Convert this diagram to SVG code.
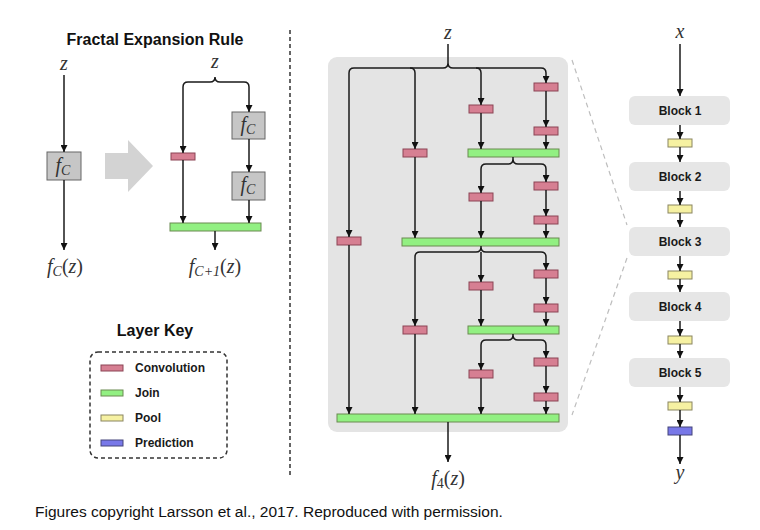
<svg xmlns="http://www.w3.org/2000/svg" width="760" height="530" viewBox="0 0 760 530">
<defs>
<marker id="ah" viewBox="0 0 10 10" refX="10" refY="5" markerWidth="7" markerHeight="7" markerUnits="userSpaceOnUse" orient="auto">
<path d="M0,0 L10,5 L0,10 z" fill="#111"/>
</marker>
<style>
.ln{stroke:#1a1a1a;stroke-width:1.5;fill:none}
.ar{stroke:#1a1a1a;stroke-width:1.5;fill:none;marker-end:url(#ah)}
.conv{fill:#d67f92;stroke:#8b4455;stroke-width:1}
.join{fill:#92f082;stroke:#6a8a50;stroke-width:1}
.pool{fill:#f6f1a2;stroke:#8a8560;stroke-width:1}
.pred{fill:#7878e8;stroke:#44447a;stroke-width:1}
.fc{fill:#c6c6c6;stroke:#666;stroke-width:1}
.blk{fill:#e6e6e6;stroke:none}
.bt{font-family:"Liberation Sans",Arial,sans-serif;font-weight:bold;font-size:12px;fill:#1a1a1a}
.ttl{font-family:"Liberation Sans",Arial,sans-serif;font-weight:bold;font-size:16px;fill:#111}
.m{font-family:"Liberation Serif","Times New Roman",serif;font-size:20px;fill:#333}
.mi{font-style:italic}
.dash{stroke:#333;stroke-width:1.5;stroke-dasharray:4,3;fill:none}
</style>
</defs>
<rect width="760" height="530" fill="#fff"/>

<!-- Fractal expansion rule -->
<g id="rule-title"><text class="ttl" x="155" y="45" text-anchor="middle">Fractal Expansion Rule</text></g>
<g id="rule-left">
<text class="m mi" x="64" y="70" text-anchor="middle">z</text>
<rect class="fc" x="47" y="152" width="34" height="28"/>
<text class="m" x="63" y="172" text-anchor="middle"><tspan class="mi">f</tspan><tspan class="mi" font-size="14" dy="3">C</tspan></text>
<text class="m" x="65" y="273" text-anchor="middle"><tspan class="mi">f</tspan><tspan class="mi" font-size="14" dy="3">C</tspan><tspan dy="-3">(</tspan><tspan class="mi">z</tspan><tspan>)</tspan></text>
</g>
<g id="expand-arrow"><polygon points="105,153 128,153 128,140 153,166 128,192 128,179 105,179" fill="#d3d3d3"/></g>
<g id="rule-right">
<text class="m mi" x="215" y="68" text-anchor="middle">z</text>
<rect class="conv" x="171" y="153" width="24" height="7"/>
<rect class="fc" x="232" y="112" width="33" height="27"/>
<text class="m" x="248" y="131" text-anchor="middle"><tspan class="mi">f</tspan><tspan class="mi" font-size="14" dy="3">C</tspan></text>
<rect class="fc" x="232" y="172" width="33" height="28"/>
<text class="m" x="248" y="191" text-anchor="middle"><tspan class="mi">f</tspan><tspan class="mi" font-size="14" dy="3">C</tspan></text>
<rect class="join" x="170" y="223" width="91" height="8"/>
<text class="m" x="215" y="273" text-anchor="middle"><tspan class="mi">f</tspan><tspan class="mi" font-size="14" dy="3">C+1</tspan><tspan dy="-3">(</tspan><tspan class="mi">z</tspan><tspan>)</tspan></text>
</g>

<!-- divider -->
<g id="divider"><line class="dash" x1="290" y1="30" x2="290" y2="478"/></g>

<!-- layer key -->
<g id="layer-key">
<text class="ttl" x="155" y="336" text-anchor="middle" font-size="15">Layer Key</text>
<rect class="dash" x="90" y="352" width="137" height="106" rx="8"/>
<rect class="conv" x="101" y="365" width="22" height="6"/>
<text class="bt" x="135" y="372">Convolution</text>
<rect class="join" x="101" y="390" width="22" height="6"/>
<text class="bt" x="135" y="397">Join</text>
<rect class="pool" x="101" y="415" width="22" height="6"/>
<text class="bt" x="135" y="422">Pool</text>
<rect class="pred" x="101" y="440" width="22" height="6"/>
<text class="bt" x="135" y="447">Prediction</text>
</g>

<!-- fractal block -->
<g id="fractal-block">
<rect x="328" y="57" width="240" height="375" rx="9" fill="#e4e4e4"/>
<text class="m mi" x="448" y="39" text-anchor="middle">z</text>
<rect class="conv" x="337" y="237" width="24" height="8"/>
<rect class="conv" x="403" y="149" width="24" height="8"/>
<rect class="conv" x="469" y="105" width="24" height="8"/>
<rect class="conv" x="534" y="83" width="24" height="8"/>
<rect class="conv" x="534" y="127" width="24" height="8"/>
<rect class="join" x="468" y="149" width="91" height="8"/>
<rect class="conv" x="469" y="193" width="24" height="8"/>
<rect class="conv" x="534" y="182" width="24" height="8"/>
<rect class="conv" x="534" y="216" width="24" height="8"/>
<rect class="join" x="402" y="238" width="157" height="8"/>
<rect class="conv" x="403" y="326" width="24" height="8"/>
<rect class="conv" x="469" y="282" width="24" height="8"/>
<rect class="conv" x="534" y="270" width="24" height="8"/>
<rect class="conv" x="534" y="304" width="24" height="8"/>
<rect class="join" x="468" y="326" width="91" height="8"/>
<rect class="conv" x="469" y="370" width="24" height="8"/>
<rect class="conv" x="534" y="358" width="24" height="8"/>
<rect class="conv" x="534" y="393" width="24" height="8"/>
<rect class="join" x="337" y="414" width="222" height="8"/>
<text class="m" x="448" y="485" text-anchor="middle"><tspan class="mi">f</tspan><tspan font-size="14" dy="3">4</tspan><tspan dy="-3">(</tspan><tspan class="mi">z</tspan><tspan>)</tspan></text>
</g>

<!-- macro network -->
<g id="x-label"><text class="m mi" x="680" y="38" text-anchor="middle">x</text></g>
<g id="block1"><rect class="blk" x="629" y="96" width="101" height="29" rx="6"/><text class="bt" x="680" y="115" text-anchor="middle">Block 1</text></g>
<g id="pool1"><rect class="pool" x="668" y="139" width="24" height="8"/></g>
<g id="block2"><rect class="blk" x="629" y="162" width="101" height="29" rx="6"/><text class="bt" x="680" y="181" text-anchor="middle">Block 2</text></g>
<g id="pool2"><rect class="pool" x="668" y="205" width="24" height="8"/></g>
<g id="block3"><rect class="blk" x="629" y="227" width="101" height="29" rx="6"/><text class="bt" x="680" y="246" text-anchor="middle">Block 3</text></g>
<g id="pool3"><rect class="pool" x="668" y="271" width="24" height="8"/></g>
<g id="block4"><rect class="blk" x="629" y="292" width="101" height="29" rx="6"/><text class="bt" x="680" y="311" text-anchor="middle">Block 4</text></g>
<g id="pool4"><rect class="pool" x="668" y="336" width="24" height="8"/></g>
<g id="block5"><rect class="blk" x="629" y="358" width="101" height="29" rx="6"/><text class="bt" x="680" y="377" text-anchor="middle">Block 5</text></g>
<g id="pool5"><rect class="pool" x="668" y="402" width="24" height="8"/></g>
<g id="prediction"><rect class="pred" x="668" y="427" width="24" height="8"/></g>
<g id="y-label"><text class="m mi" x="680" y="479" text-anchor="middle">y</text></g>

<!-- connectors -->
<g id="connectors">
<!-- rule left -->
<line class="ar" x1="64" y1="75" x2="64" y2="152"/>
<line class="ar" x1="64" y1="180" x2="64" y2="250"/>
<!-- rule right -->
<path class="ln" d="M183,87 Q183,82 188,82 L210,82 Q215,82 215,77 Q215,82 220,82 L244,82 Q249,82 249,87"/>
<line class="ar" x1="183" y1="87" x2="183" y2="153"/>
<line class="ar" x1="183" y1="160" x2="183" y2="223"/>
<line class="ar" x1="249" y1="87" x2="249" y2="112"/>
<line class="ar" x1="249" y1="139" x2="249" y2="172"/>
<line class="ar" x1="249" y1="200" x2="249" y2="223"/>
<line class="ar" x1="215" y1="231" x2="215" y2="250"/>
<!-- fractal -->
<line class="ln" x1="448" y1="44" x2="448" y2="63"/>
<path class="ln" d="M349,73 Q349,68 354,68 L443,68 Q448,68 448,63 Q448,68 453,68 L541,68 Q546,68 546,73"/>
<path class="ln" d="M410,68 Q415,68 415,73"/>
<path class="ln" d="M476,68 Q481,68 481,73"/>
<line class="ar" x1="349" y1="73" x2="349" y2="237"/>
<line class="ar" x1="349" y1="245" x2="349" y2="414"/>
<line class="ar" x1="415" y1="73" x2="415" y2="149"/>
<line class="ar" x1="415" y1="157" x2="415" y2="238"/>
<line class="ar" x1="481" y1="73" x2="481" y2="105"/>
<line class="ar" x1="481" y1="113" x2="481" y2="149"/>
<line class="ar" x1="546" y1="73" x2="546" y2="83"/>
<line class="ar" x1="546" y1="91" x2="546" y2="127"/>
<line class="ar" x1="546" y1="135" x2="546" y2="149"/>
<path class="ln" d="M481,169 Q481,164 486,164 L508,164 Q513,164 513,159 L513,157 M513,159 Q513,164 518,164 L541,164 Q546,164 546,169"/>
<line class="ar" x1="481" y1="169" x2="481" y2="193"/>
<line class="ar" x1="481" y1="201" x2="481" y2="238"/>
<line class="ar" x1="546" y1="169" x2="546" y2="182"/>
<line class="ar" x1="546" y1="190" x2="546" y2="216"/>
<line class="ar" x1="546" y1="224" x2="546" y2="238"/>
<path class="ln" d="M415,257 Q415,252 420,252 L476,252 Q481,252 481,247 L481,246 M481,247 Q481,252 486,252 L541,252 Q546,252 546,257"/>
<line class="ar" x1="415" y1="257" x2="415" y2="326"/>
<line class="ar" x1="415" y1="334" x2="415" y2="414"/>
<line class="ar" x1="481" y1="252" x2="481" y2="282"/>
<line class="ar" x1="481" y1="290" x2="481" y2="326"/>
<line class="ar" x1="546" y1="257" x2="546" y2="270"/>
<line class="ar" x1="546" y1="278" x2="546" y2="304"/>
<line class="ar" x1="546" y1="312" x2="546" y2="326"/>
<path class="ln" d="M481,345 Q481,340 486,340 L508,340 Q513,340 513,335 L513,334 M513,335 Q513,340 518,340 L541,340 Q546,340 546,345"/>
<line class="ar" x1="481" y1="345" x2="481" y2="370"/>
<line class="ar" x1="481" y1="378" x2="481" y2="414"/>
<line class="ar" x1="546" y1="345" x2="546" y2="358"/>
<line class="ar" x1="546" y1="366" x2="546" y2="393"/>
<line class="ar" x1="546" y1="401" x2="546" y2="414"/>
<line class="ar" x1="448" y1="422" x2="448" y2="462"/>
<!-- zoom guides -->
<line x1="572" y1="60" x2="627" y2="225" stroke="#bdbdbd" stroke-width="1.2" stroke-dasharray="5,4"/>
<line x1="627" y1="258" x2="572" y2="415" stroke="#bdbdbd" stroke-width="1.2" stroke-dasharray="5,4"/>
<!-- macro -->
<line class="ar" x1="680" y1="44" x2="680" y2="96"/>
<line class="ar" x1="680" y1="125" x2="680" y2="139"/>
<line class="ar" x1="680" y1="147" x2="680" y2="162"/>
<line class="ar" x1="680" y1="191" x2="680" y2="205"/>
<line class="ar" x1="680" y1="213" x2="680" y2="227"/>
<line class="ar" x1="680" y1="256" x2="680" y2="271"/>
<line class="ar" x1="680" y1="279" x2="680" y2="292"/>
<line class="ar" x1="680" y1="321" x2="680" y2="336"/>
<line class="ar" x1="680" y1="344" x2="680" y2="358"/>
<line class="ar" x1="680" y1="387" x2="680" y2="402"/>
<line class="ar" x1="680" y1="410" x2="680" y2="427"/>
<line class="ar" x1="680" y1="435" x2="680" y2="464"/>
</g>

<g id="caption"><text x="35" y="517" font-family="'Liberation Sans',Arial,sans-serif" font-size="15.5" fill="#111">Figures copyright Larsson et al., 2017. Reproduced with permission.</text></g>
</svg>
